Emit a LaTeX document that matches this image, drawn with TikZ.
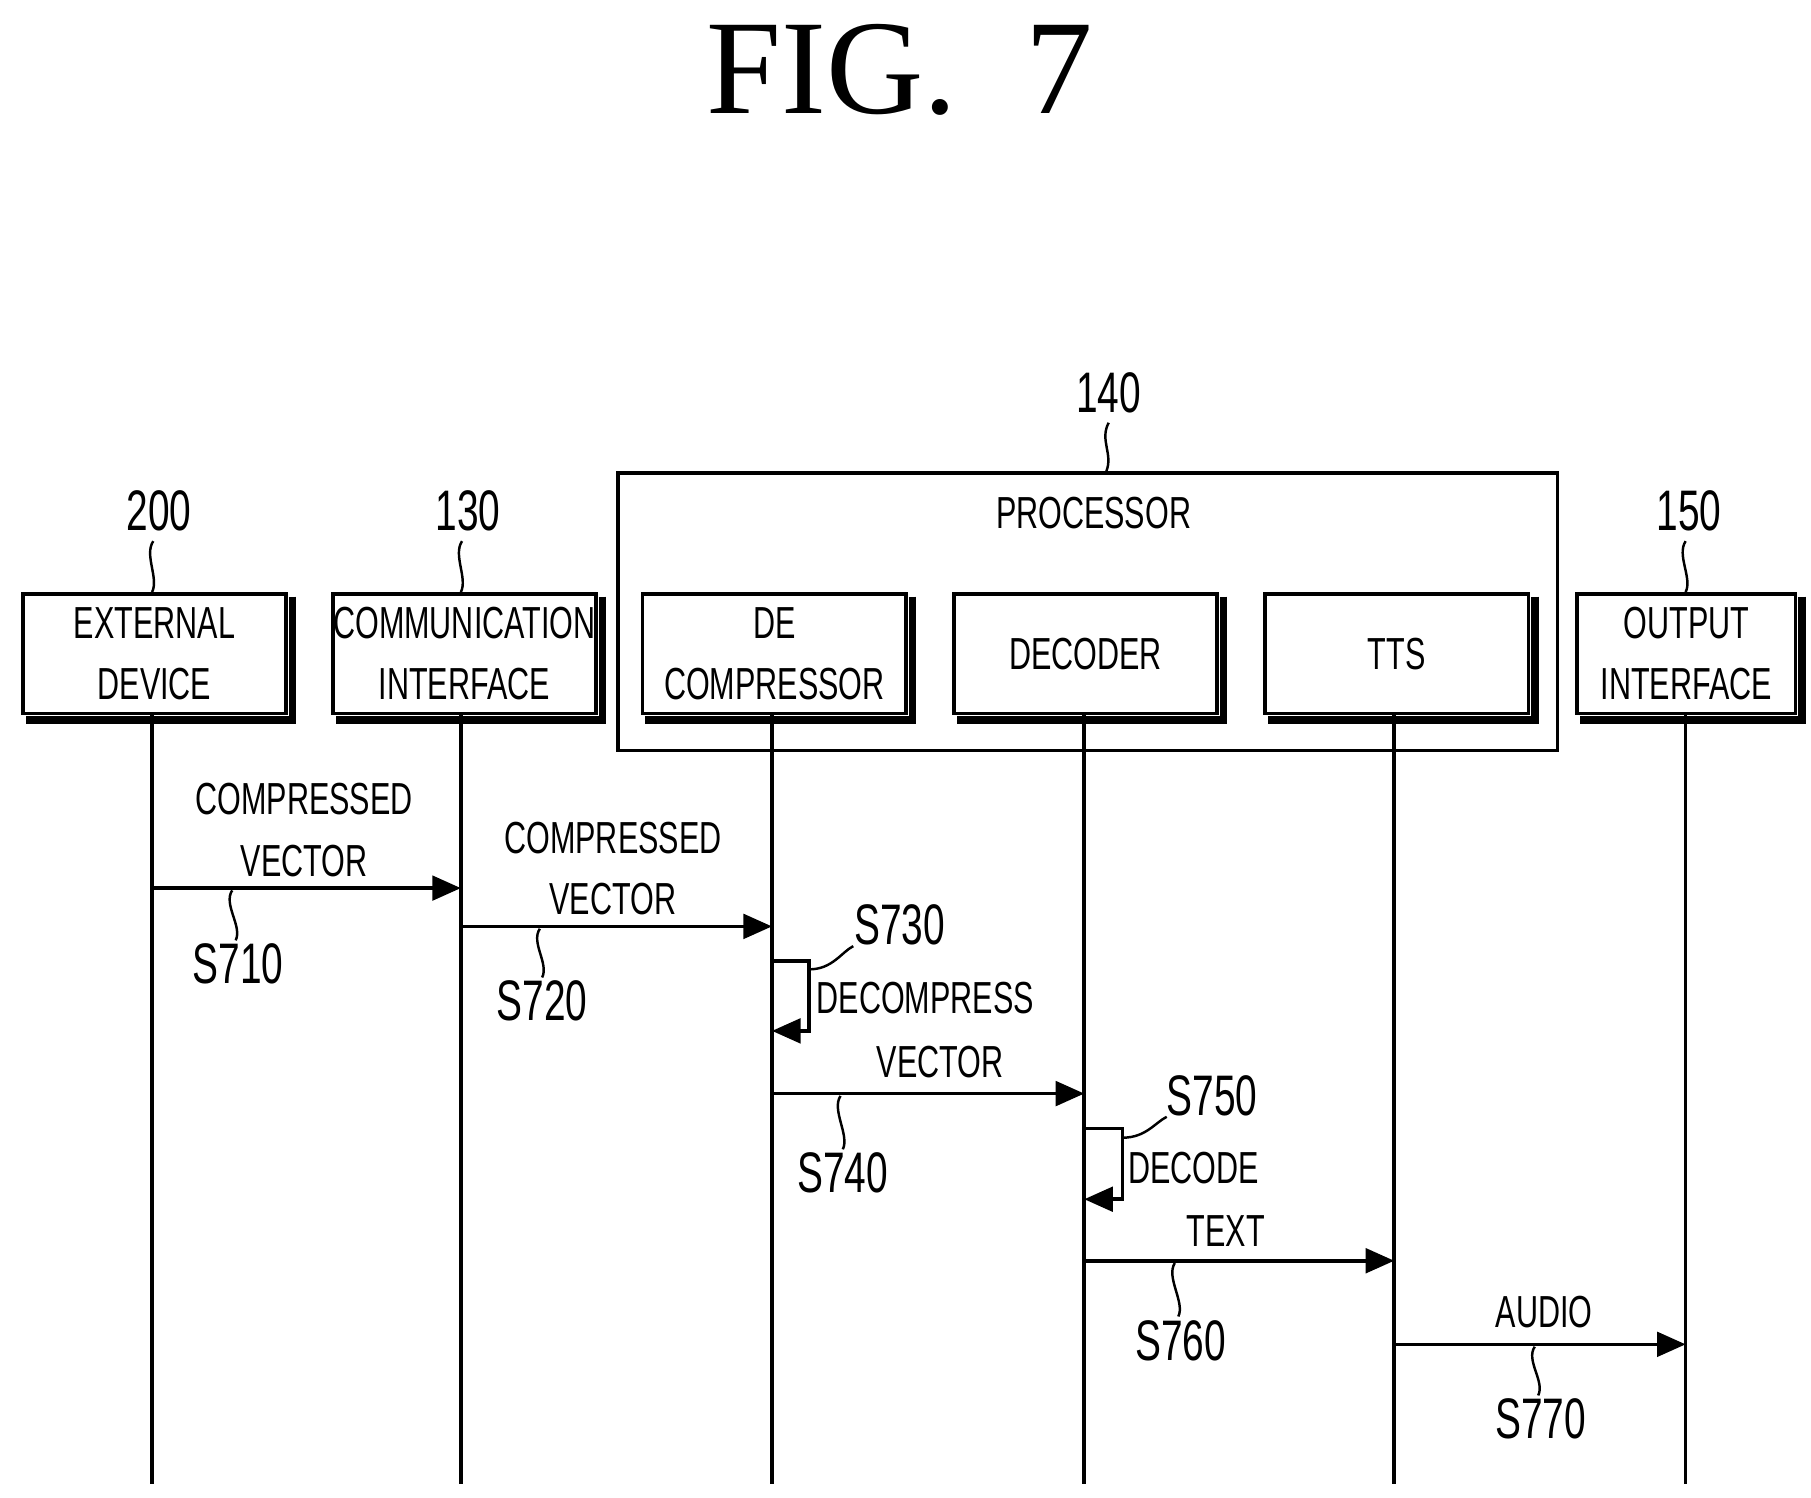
\documentclass[tikz,border=0pt]{standalone}
\usepackage{fontspec}
\setmainfont{Liberation Sans}[FakeStretch=0.68]
\newfontfamily\titlefont{Liberation Serif}
\usetikzlibrary{arrows.meta}
\begin{document}
\begin{tikzpicture}[x=0.01cm,y=-0.01cm,
  txt/.style={font=\fontsize{11}{15}\selectfont,align=center,inner sep=0pt},
  num/.style={inner sep=0pt,font=\fontsize{14}{17}\selectfont},
  box/.style={draw,line width=0.9pt,minimum width=227*0.01cm,minimum height=103*0.01cm,txt,anchor=north west},
  life/.style={line width=0.9pt},
  msg/.style={line width=0.9pt,-{Triangle[length=7pt,width=6pt]}},
  sq/.style={line width=0.6pt}]
\useasboundingbox (0,0) rectangle (1560,1290);
\node[font=\titlefont\fontsize{33}{40}\selectfont] (title) at (775,60) {FIG.\ \ 7};
% processor box
\node[draw,line width=0.9pt,anchor=north west,minimum width=809*0.01cm,minimum height=239*0.01cm,inner sep=0pt] (proc) at (531,406) {};
\node[txt] (proct) at (942,442) {PROCESSOR};
% boxes
\foreach \n/\x/\t in {ext/18/{EXTERNAL\\DEVICE},com/285/{COMMUNICATION\\INTERFACE},dec/552/{DE\\COMPRESSOR},dco/820/{DECODER},tts/1088/{TTS}}{
  \node[box] (\n) at (\x,510) {\t};
  \draw[line width=1.8pt] ([xshift=0.04cm,yshift=-0.04cm]\n.north east) -- ([xshift=0.04cm,yshift=-0.04cm]\n.south east) -- ([xshift=0.04cm,yshift=-0.04cm]\n.south west);
}
\node[box,minimum width=188*0.01cm] (out) at (1357,510) {OUTPUT\\INTERFACE};
\draw[line width=1.8pt] ([xshift=0.04cm,yshift=-0.04cm]out.north east) -- ([xshift=0.04cm,yshift=-0.04cm]out.south east) -- ([xshift=0.04cm,yshift=-0.04cm]out.south west);
% ref labels
\node[num] (l200) at (137,440) {200};
\node[num] (l130) at (403,440) {130};
\node[num] (l140) at (955,338) {140};
\node[num] (l150) at (1455,440) {150};
\draw[sq] (l200.south) ++(-5,8) .. controls +(-8,12) and +(6,-12) .. (131,510);
\draw[sq] (l130.south) ++(-5,8) .. controls +(-8,12) and +(6,-12) .. (397,510);
\draw[sq] (l140.south) ++(0,8) .. controls +(-8,15) and +(6,-15) .. (953,406);
\draw[sq] (l150.south) ++(-3,8) .. controls +(-8,12) and +(6,-12) .. (1452,510);
% lifelines
\coordinate (e1) at (131,1278); \coordinate (e2) at (397,1278); \coordinate (e3) at (665,1278);
\coordinate (e4) at (934,1278); \coordinate (e5) at (1201,1278); \coordinate (e6) at (1452,1278);
\draw[life] (ext.south -| e1) -- (e1);
\draw[life] (com.south -| e2) -- (e2);
\draw[life] (dec.south -| e3) -- (e3);
\draw[life] (dco.south -| e4) -- (e4);
\draw[life] (tts.south -| e5) -- (e5);
\draw[life] (out.south -| e6) -- (e6);
% messages
\draw[msg] (131,765) -- (397,765);
\node[txt] (m1) at (262,715) {COMPRESSED\\VECTOR};
\node[num] (s1) at (205,830) {S710};
\draw[sq] (200,767) .. controls +(-8,12) and +(6,-12) .. (203,810);
\draw[msg] (397,798) -- (665,798);
\node[txt] (m2) at (528,748) {COMPRESSED\\VECTOR};
\node[num] (s2) at (467,862) {S720};
\draw[sq] (465,800) .. controls +(-8,12) and +(6,-12) .. (467,842);
% S730 loop
\draw[line width=0.9pt,-{Triangle[length=7pt,width=6pt]}] (665,828) -- (697,828) -- (697,888) -- (665,888);
\node[num] (s3) at (775,797) {S730};
\node[txt] (m3) at (797,860) {DECOMPRESS};
\draw[sq] (697,835) .. controls +(20,0) and +(-10,5) .. (735,815);
\draw[msg] (665,942) -- (934,942);
\node[txt] (m4) at (810,915) {VECTOR};
\node[num] (s4) at (726,1010) {S740};
\draw[sq] (724,944) .. controls +(-8,12) and +(6,-12) .. (726,990);
% S750 loop
\draw[line width=0.9pt,-{Triangle[length=7pt,width=6pt]}] (934,972) -- (967,972) -- (967,1033) -- (934,1033);
\node[num] (s5) at (1044,944) {S750};
\node[txt] (m5) at (1028,1006) {DECODE};
\draw[sq] (967,980) .. controls +(20,0) and +(-10,5) .. (1005,962);
\draw[msg] (934,1086) -- (1201,1086);
\node[txt] (m6) at (1056,1060) {TEXT};
\node[num] (s6) at (1017,1155) {S760};
\draw[sq] (1012,1088) .. controls +(-8,12) and +(6,-12) .. (1015,1134);
\draw[msg] (1201,1158) -- (1452,1158);
\node[txt] (m7) at (1330,1130) {AUDIO};
\node[num] (s7) at (1327,1222) {S770};
\draw[sq] (1322,1160) .. controls +(-8,12) and +(6,-12) .. (1325,1202);
\end{tikzpicture}
\end{document}
